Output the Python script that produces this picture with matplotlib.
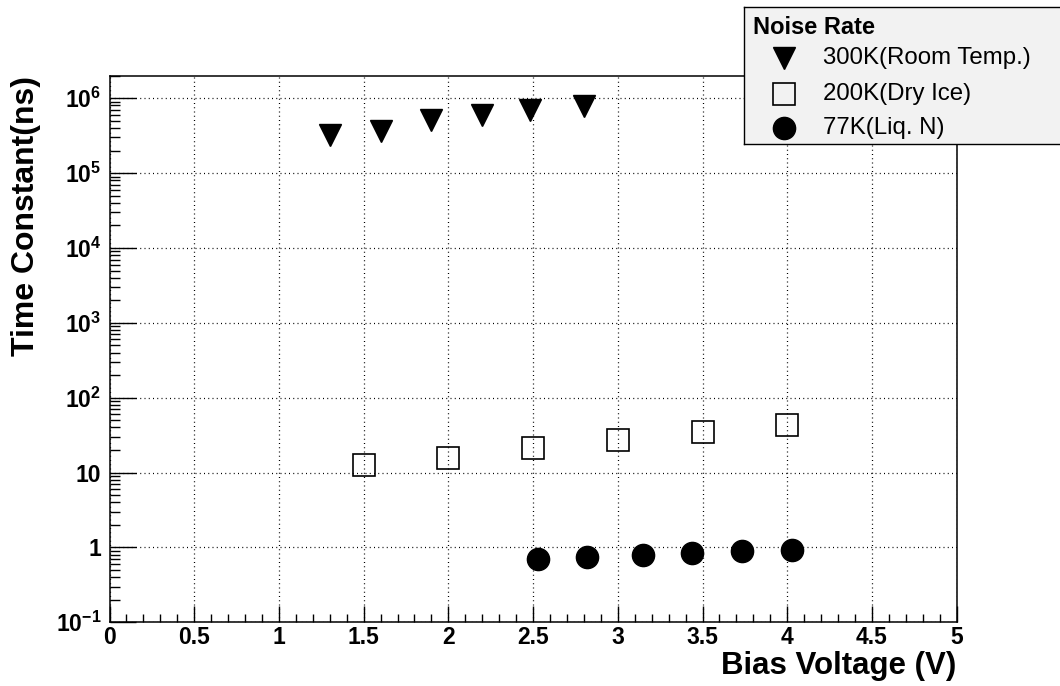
import matplotlib
matplotlib.use("Agg")
import matplotlib.pyplot as plt
from matplotlib.ticker import FixedLocator, FixedFormatter, LogLocator, NullFormatter, MultipleLocator

plt.rcParams['font.family'] = ['Liberation Sans', 'DejaVu Sans']
plt.rcParams['mathtext.fontset'] = 'custom'
plt.rcParams['mathtext.rm'] = 'Liberation Sans'
plt.rcParams['mathtext.bf'] = 'Liberation Sans:bold'
plt.rcParams['mathtext.it'] = 'Liberation Sans:italic'

# Measured time constants (ns) versus bias voltage (V)
v_300k = [1.3, 1.6, 1.9, 2.2, 2.48, 2.8]
tau_300k = [3.2e5, 3.7e5, 5.1e5, 6.0e5, 7.0e5, 7.9e5]

v_200k = [1.5, 2.0, 2.5, 3.0, 3.5, 4.0]
tau_200k = [12.6, 15.8, 21.0, 27.4, 34.7, 43.0]

v_77k = [2.53, 2.82, 3.15, 3.44, 3.73, 4.03]
tau_77k = [0.69, 0.736, 0.80, 0.83, 0.885, 0.93]

series_labels = ["300K(Room Temp.)", "200K(Dry Ice)", "77K(Liq. N)"]
legend_title = "Noise Rate"

xtick_values = [0, 0.5, 1, 1.5, 2, 2.5, 3, 3.5, 4, 4.5, 5]
xtick_labels = ["0", "0.5", "1", "1.5", "2", "2.5", "3", "3.5", "4", "4.5", "5"]
ytick_values = [1e-1, 1, 10, 1e2, 1e3, 1e4, 1e5, 1e6]
ytick_labels = [r"$\mathbf{10^{-1}}$", "1", "10", r"$\mathbf{10^{2}}$", r"$\mathbf{10^{3}}$",
                r"$\mathbf{10^{4}}$", r"$\mathbf{10^{5}}$", r"$\mathbf{10^{6}}$"]

W, H = 1060, 686
fig = plt.figure(figsize=(W / 100, H / 100), dpi=100)
fig.patch.set_facecolor("white")

left, right, top, bottom = 109.5, 956.7, 75.7, 622.3
ax = fig.add_axes([left / W, 1 - bottom / H, (right - left) / W, (bottom - top) / H])

styles = [
    dict(marker="v", color="black", markersize=16, linestyle="none"),
    dict(marker="s", markerfacecolor="none", markeredgecolor="black", markeredgewidth=1.2,
         markersize=16, linestyle="none"),
    dict(marker="o", color="black", markersize=16, linestyle="none"),
]

ax.plot(v_300k, tau_300k, zorder=3, **styles[0])
ax.plot(v_200k, tau_200k, zorder=3, **styles[1])
ax.plot(v_77k, tau_77k, zorder=3, **styles[2])

ax.set_yscale("log")
ax.set_xlim(0, 5)
ax.set_ylim(0.1, 2e6)

ax.xaxis.set_major_locator(FixedLocator(xtick_values))
ax.xaxis.set_major_formatter(FixedFormatter(xtick_labels))
ax.xaxis.set_minor_locator(MultipleLocator(0.1))
ax.yaxis.set_major_locator(FixedLocator(ytick_values))
ax.yaxis.set_major_formatter(FixedFormatter(ytick_labels))
ax.yaxis.set_minor_locator(LogLocator(base=10, subs=range(2, 10), numticks=20))
ax.yaxis.set_minor_formatter(NullFormatter())

ax.tick_params(axis="both", which="both", direction="in", top=False, right=False,
               color="black", width=1.0)
ax.tick_params(axis="x", which="major", length=11.5, pad=3, labelsize=16.5)
ax.tick_params(axis="x", which="minor", length=5.8)
ax.tick_params(axis="y", which="major", length=18.5, pad=6, labelsize=16.5)
ax.tick_params(axis="y", which="minor", length=7)
for lab in ax.get_xticklabels() + ax.get_yticklabels():
    lab.set_fontweight("bold")

for sp in ax.spines.values():
    sp.set_linewidth(1.1)
    sp.set_color("black")

ax.grid(True, which="major", color="black", linestyle=(0, (0.8, 2.6)), linewidth=0.9, zorder=1)
ax.set_axisbelow(True)

ax.set_xlabel("Bias Voltage (V)", fontsize=22.5, fontweight="bold", loc="right")
ax.xaxis.set_label_coords(1.0, -0.0533)
ax.set_ylabel("Time Constant(ns)", fontsize=23, fontweight="bold", loc="top")
ax.yaxis.set_label_coords(-0.081, 1.0)

# Legend box in pixel units
lg_left, lg_top, lg_bottom = 744, 7, 144
lax = fig.add_axes([lg_left / W, 1 - lg_bottom / H, 1.0, (lg_bottom - lg_top) / H])
lax.set_xlim(0, W)
lax.set_ylim(lg_bottom - lg_top, 0)
lax.set_facecolor("#f2f2f2")
lax.set_xticks([])
lax.set_yticks([])
for sp in lax.spines.values():
    sp.set_linewidth(1.0)
    sp.set_color("black")

lax.text(9, 20, legend_title, fontsize=17, fontweight="bold", va="center", ha="left")
row_y = [51, 87, 121]
for st, lab, yy in zip(styles, series_labels, row_y):
    lax.plot([40], [yy], **st)
    lax.text(79, yy, lab, fontsize=17.3, va="center", ha="left")

fig.savefig("out.png", dpi=100)
